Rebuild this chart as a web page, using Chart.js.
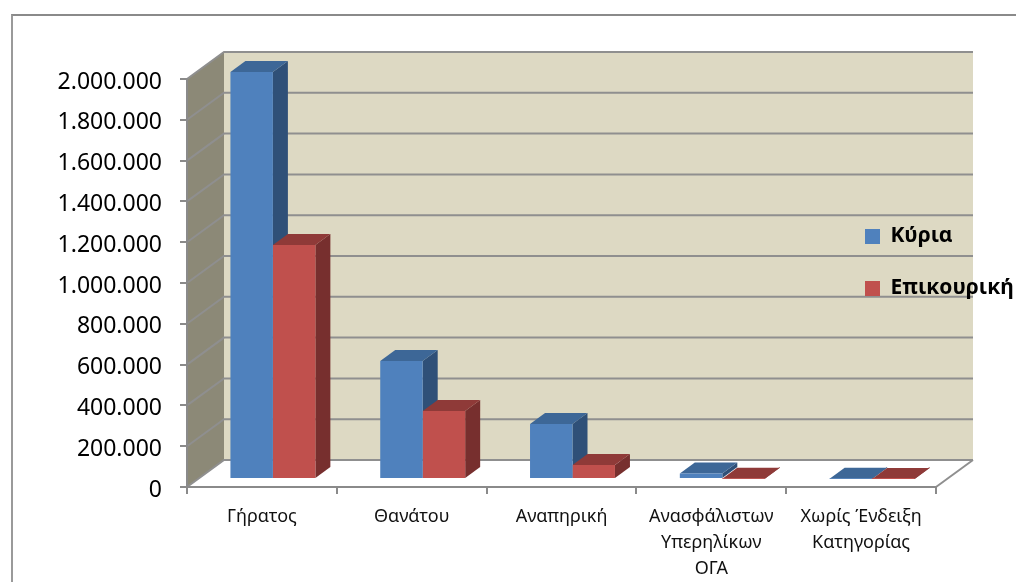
<!DOCTYPE html>
<html>
<head>
<meta charset="utf-8">
<style>
  html, body { margin: 0; padding: 0; background: #fff; overflow: hidden; }
  #wrap { position: relative; width: 1016px; height: 582px; }
  #frame { position: absolute; left: 11px; top: 14px; right: -10px; bottom: -10px; border-top: 2px solid #8a8a8a; border-left: 2px solid #9a9a9a; }
  canvas { position: absolute; left: 0; top: 0; }
</style>
<script src="https://cdn.jsdelivr.net/npm/chart.js@4/dist/chart.umd.min.js"></script>
</head>
<body>
<div id="wrap">
  <div id="frame"></div>
  <canvas id="chart" width="1016" height="582"></canvas>
</div>
<script>
const categories = ['Γήρατος', 'Θανάτου', 'Αναπηρική', ['Ανασφάλιστων', 'Υπερηλίκων', 'ΟΓΑ'], ['Χωρίς Ένδειξη', 'Κατηγορίας']];
const kyria = [1995000, 578000, 270000, 27000, 1500];
const epikouriki = [1147000, 333000, 69000, 1000, 500];
const yTickLabels = ['0', '200.000', '400.000', '600.000', '800.000', '1.000.000', '1.200.000', '1.400.000', '1.600.000', '1.800.000', '2.000.000'];

// 3d look: how far the back wall and the bar plane sit behind the axes
const WALL_DX = 37, WALL_DY = -27;
const BAR_SHIFT_X = 11, BAR_SHIFT_Y = -8;
const BAR_DX = 15, BAR_DY = -11;
const faceColors = [
  { top: '#3d6797', side: '#2f5078' },
  { top: '#8f3a38', side: '#772f2e' }
];

function poly(ctx, pts, color) {
  ctx.fillStyle = color;
  ctx.beginPath();
  pts.forEach((p, i) => i ? ctx.lineTo(p[0], p[1]) : ctx.moveTo(p[0], p[1]));
  ctx.closePath();
  ctx.fill();
}

const walls = {
  id: 'walls',
  afterLayout(chart) {
    // legend sits on top of the back wall, at its right end
    const lg = chart.legend;
    const w = lg.right - lg.left, h = lg.bottom - lg.top;
    lg.left = 834; lg.right = 834 + w;
    lg.top = 195; lg.bottom = 195 + h;
    // this font sits a bit high against the y ticks
    chart.scales.y.getLabelItems().forEach(it => { it.textOffset += 3; });
  },
  beforeDraw(chart) {
    const { ctx, chartArea: a, scales } = chart;
    const y = scales.y;
    ctx.save();
    poly(ctx, [[a.left + WALL_DX, a.top + WALL_DY], [a.right + WALL_DX, a.top + WALL_DY], [a.right + WALL_DX, a.bottom + WALL_DY], [a.left + WALL_DX, a.bottom + WALL_DY]], '#ddd9c3');
    poly(ctx, [[a.left, a.top], [a.left + WALL_DX, a.top + WALL_DY], [a.left + WALL_DX, a.bottom + WALL_DY], [a.left, a.bottom]], '#8c8977');
    ctx.lineWidth = 2;
    y.ticks.forEach(t => {
      const py = y.getPixelForValue(t.value);
      ctx.strokeStyle = '#8f8f8f';
      ctx.beginPath();
      ctx.moveTo(a.left, py);
      ctx.lineTo(a.left + WALL_DX, py + WALL_DY);
      ctx.lineTo(a.right + WALL_DX, py + WALL_DY);
      ctx.stroke();
    });
    ctx.beginPath();
    ctx.moveTo(a.right, a.bottom);
    ctx.lineTo(a.right + WALL_DX, a.bottom + WALL_DY);
    ctx.stroke();
    ctx.restore();
  },
  beforeDatasetsDraw(chart) {
    const ctx = chart.ctx;
    ctx.save();
    ctx.translate(BAR_SHIFT_X, BAR_SHIFT_Y);
    chart.data.datasets.forEach((ds, i) => {
      chart.getDatasetMeta(i).data.forEach(el => {
        const l = el.x - el.width / 2, r = el.x + el.width / 2;
        poly(ctx, [[r, el.y], [r + BAR_DX, el.y + BAR_DY], [r + BAR_DX, el.base + BAR_DY], [r, el.base]], faceColors[i].side);
        poly(ctx, [[l, el.y], [l + BAR_DX, el.y + BAR_DY], [r + BAR_DX, el.y + BAR_DY], [r, el.y]], faceColors[i].top);
      });
    });
    // fronts are drawn by the library on the same shifted plane
  },
  afterDatasetsDraw(chart) {
    chart.ctx.restore();
  }
};

const labelFont = 'Noto Sans';

new Chart(document.getElementById('chart'), {
  type: 'bar',
  data: {
    labels: categories,
    datasets: [
      { label: 'Κύρια', data: kyria, backgroundColor: '#4f81bd', categoryPercentage: 0.567, barPercentage: 1, clip: false },
      { label: 'Επικουρική', data: epikouriki, backgroundColor: '#c0504d', categoryPercentage: 0.567, barPercentage: 1, clip: false }
    ]
  },
  plugins: [walls],
  options: {
    responsive: false,
    animation: false,
    layout: { padding: { top: 79, right: 80, left: 0, bottom: 0 } },
    plugins: {
      tooltip: { enabled: false },
      legend: {
        position: 'chartArea',
        align: 'start',
        labels: {
          boxWidth: 15,
          boxHeight: 15,
          padding: 31,
          color: '#000',
          font: { family: labelFont, size: 21, weight: 'bold' }
        }
      }
    },
    scales: {
      x: {
        afterFit(s) { s.height = 95; },
        border: { color: '#8a8a8a', width: 2 },
        grid: { drawOnChartArea: false, tickColor: '#8a8a8a', tickLength: 7, lineWidth: 2 },
        ticks: {
          autoSkip: false,
          maxRotation: 0,
          padding: 10,
          color: '#111',
          font: { family: labelFont, size: 18, lineHeight: 1.44 }
        }
      },
      y: {
        min: 0,
        max: 2000000,
        afterFit(s) { s.width = 187; },
        border: { color: '#8a8a8a', width: 2 },
        grid: { drawOnChartArea: false, tickColor: '#8a8a8a', tickLength: 7, lineWidth: 2 },
        ticks: {
          stepSize: 200000,
          padding: 18,
          color: '#000',
          font: { family: labelFont, size: 23 },
          callback: (v, i) => yTickLabels[i]
        }
      }
    }
  }
});
</script>
</body>
</html>
